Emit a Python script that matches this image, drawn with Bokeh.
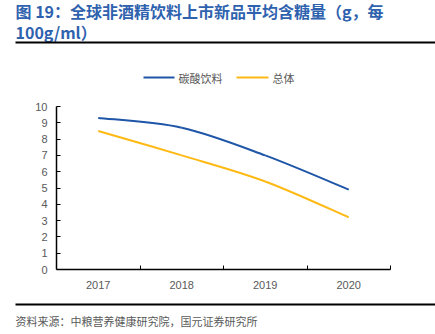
from bokeh.plotting import figure
from bokeh.layouts import column
from bokeh.models import FixedTicker, Range1d
from bokeh.core.properties import value
from bokeh.embed import file_html
from bokeh.resources import INLINE

years = [2017, 2018, 2019, 2020]
soda = [9.3, 8.7, 7.0, 4.9]
overall = [8.5, 7.0, 5.4, 3.2]
series_names = ["碳酸饮料", "总体"]
y_ticks = list(range(0, 11))
title_lines = ["图 19：全球非酒精饮料上市新品平均含糖量（g，每", "100g/ml）"]
source_text = "资料来源：中粮营养健康研究院，国元证券研究所"

BLUE = "#1F56A8"
GOLD = "#FFB915"
GRAY = "#595959"
TITLE_BLUE = "#2F62AE"
CJK = "Noto Sans CJK SC"

W = 435
TOP_H, MAIN_H, BOT_H = 95, 199, 40
FL, FR = 56, 390


def blank(h):
    f = figure(width=W, height=h, output_backend="svg", toolbar_location=None,
               x_range=Range1d(0, W), y_range=Range1d(h, 0),
               x_axis_location=None, y_axis_location=None,
               min_border=0, background_fill_color="white", border_fill_color="white")
    f.outline_line_color = None
    f.xgrid.visible = False
    f.ygrid.visible = False
    f.frame_align = False
    return f


# ---- header: title, rule, legend
top = blank(TOP_H)
top.text(x=[15, 15], y=[10, 31], text=title_lines, text_font=value(CJK),
         text_font_size="16px", text_font_style="bold", text_color=TITLE_BLUE,
         text_baseline="middle", text_align="left")
top.segment(x0=[15], y0=[42], x1=[435], y1=[42], line_color="black", line_width=2)
top.segment(x0=[143, 236], y0=[77, 77], x1=[174, 268], y1=[77, 77],
            line_color=[BLUE, GOLD], line_width=2)
top.text(x=[178, 272], y=[77, 77], text=series_names, text_font=value(CJK),
         text_font_size="11px", text_color=GRAY, text_baseline="middle", text_align="left")

# ---- main chart
p = figure(width=W, height=MAIN_H, output_backend="svg", toolbar_location=None,
           x_range=(years[0] - 0.5, years[-1] + 0.5), y_range=(0, 10),
           min_border_left=FL, min_border_right=W - FR,
           min_border_top=11, min_border_bottom=25,
           background_fill_color="white", border_fill_color="white")
p.outline_line_color = None
p.xgrid.visible = False
p.ygrid.visible = False
p.frame_align = False


def smooth(xs, ys):
    n = len(xs)
    P = list(zip(xs, ys))
    out = {k: [] for k in ["x0", "y0", "x1", "y1", "cx0", "cy0", "cx1", "cy1"]}
    for i in range(n - 1):
        pm = P[max(i - 1, 0)]
        p0 = P[i]
        p1 = P[i + 1]
        p2 = P[min(i + 2, n - 1)]
        out["x0"].append(p0[0]); out["y0"].append(p0[1])
        out["x1"].append(p1[0]); out["y1"].append(p1[1])
        out["cx0"].append(p0[0] + (p1[0] - pm[0]) / 6)
        out["cy0"].append(p0[1] + (p1[1] - pm[1]) / 6)
        out["cx1"].append(p1[0] - (p2[0] - p0[0]) / 6)
        out["cy1"].append(p1[1] - (p2[1] - p0[1]) / 6)
    return out


for ys, col in [(soda, BLUE), (overall, GOLD)]:
    s = smooth(years, ys)
    p.bezier(x0=s["x0"], y0=s["y0"], x1=s["x1"], y1=s["y1"],
             cx0=s["cx0"], cy0=s["cy0"], cx1=s["cx1"], cy1=s["cy1"],
             line_color=col, line_width=2)

xa = p.xaxis[0]
xa.ticker = FixedTicker(ticks=years, minor_ticks=[y + 0.5 for y in years])
xa.major_label_overrides = {y: str(y) for y in years}
xa.major_tick_line_color = None
xa.minor_tick_in = 4
xa.minor_tick_out = 0
xa.minor_tick_line_color = "black"
xa.axis_line_color = "black"
xa.axis_line_width = 1.5
xa.major_label_text_color = GRAY
xa.major_label_text_font = "Liberation Sans"
xa.major_label_text_font_size = "11px"
xa.major_label_standoff = 5

ya = p.yaxis[0]
ya.ticker = FixedTicker(ticks=y_ticks)
ya.major_tick_in = 4
ya.major_tick_out = 0
ya.minor_tick_line_color = None
ya.axis_line_color = "black"
ya.axis_line_width = 1.5
ya.major_tick_line_color = "black"
ya.major_label_text_color = GRAY
ya.major_label_text_font = "Liberation Sans"
ya.major_label_text_font_size = "11px"
ya.major_label_standoff = 9

# ---- footer: rule, source
bot = blank(BOT_H)
bot.segment(x0=[15], y0=[10], x1=[435], y1=[10], line_color="black", line_width=2)
bot.text(x=[15], y=[26], text=[source_text], text_font=value(CJK),
         text_font_size="11px", text_color=GRAY, text_baseline="middle", text_align="left")

layout = column(top, p, bot, spacing=0)
open("out.html", "w").write(file_html(layout, INLINE))
